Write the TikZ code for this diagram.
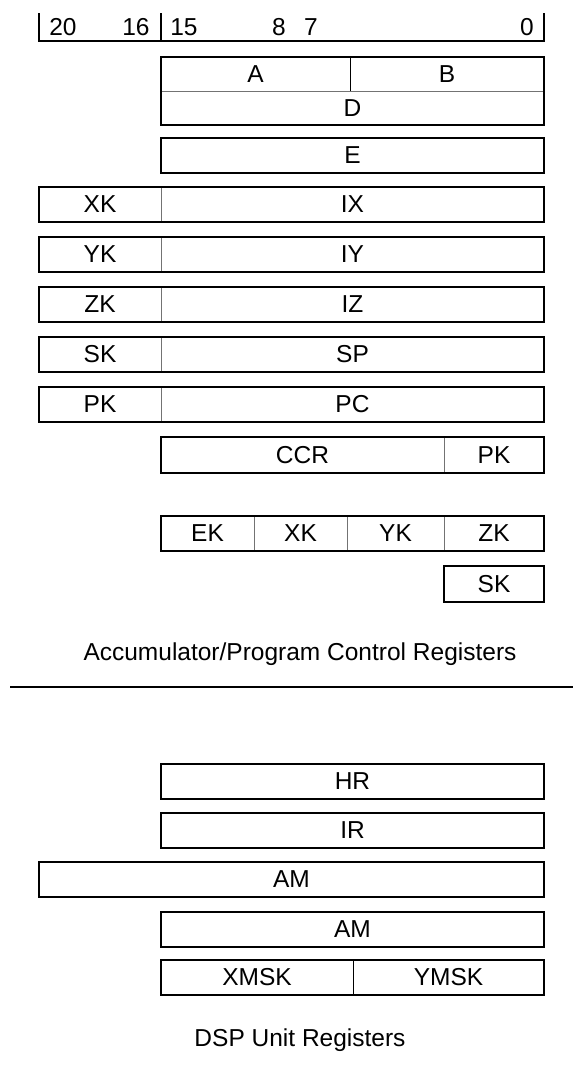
\documentclass[tikz,border=0pt]{standalone}
\usepackage{fontspec}
\setmainfont{Liberation Sans}
\begin{document}
\begin{tikzpicture}[x=1pt,y=-1pt,
  frame/.style={draw=black,line width=2pt},
  thinblack/.style={draw=black,line width=1.2pt},
  divider/.style={draw=black!55,line width=1.2pt},
  field/.style={inner sep=0pt,minimum height=35pt,font=\fontsize{24.5}{28}\selectfont},
  lbl/.style={inner sep=0pt,font=\fontsize{24.5}{28}\selectfont},
]
\useasboundingbox (0,0) rectangle (573,1068);
% header
\coordinate (h1) at (39,13);
\coordinate (h1b) at (39,41);
\coordinate (h2) at (161,13);
\coordinate (h2b) at (161,41);
\coordinate (h3) at (544,13);
\coordinate (h3b) at (544,41);
\draw[frame] (h1) -- (h1b) -- (h3b) -- (h3);
\draw[frame] (h2) -- (h2b);
\node[lbl] (b20) at (63,27) {20};
\node[lbl] (b16) at (136,27) {16};
\node[lbl] (b15) at (184,27) {15};
\node[lbl] (b8) at (279,27) {8};
\node[lbl] (b7) at (311,27) {7};
\node[lbl] (b0) at (527,27) {0};
% A/B/D
\node[field,minimum width=189pt,minimum height=34pt] (A) at (255.5,74) {A};
\node[field,minimum width=194pt,minimum height=34pt] (B) at (447,74) {B};
\node[field,minimum width=383pt,minimum height=34pt] (D) at (352.5,108) {D};
\draw[divider] (A.south west) -- (B.south east);
\draw[thinblack] (A.north east) -- (A.south east);
\draw[frame] (A.north west) rectangle (D.south east);
% E
\node[field,minimum width=383pt,frame] (E) at (352.5,155.5) {E};
% index registers
\foreach \k/\r/\y in {XK/IX/204.5,YK/IY/254.5,ZK/IZ/304.5,SK/SP/354.5,PK/PC/404.5}{
  \node[field,minimum width=122pt] (\k l) at (100,\y) {\k};
  \node[field,minimum width=383pt] (\r) at (352.5,\y) {\r};
  \draw[divider] (\k l.north east) -- (\k l.south east);
  \draw[frame] (\k l.north west) rectangle (\r.south east);
}
% CCR / PK
\node[field,minimum width=283pt] (CCR) at (302.5,455) {CCR};
\node[field,minimum width=100pt] (PKc) at (494,455) {PK};
\draw[divider] (CCR.north east) -- (CCR.south east);
\draw[frame] (CCR.north west) rectangle (PKc.south east);
% EK XK YK ZK
\node[field,minimum width=93pt] (EK) at (207.5,533.5) {EK};
\node[field,minimum width=93pt] (XKm) at (300.5,533.5) {XK};
\node[field,minimum width=97pt] (YKm) at (395.5,533.5) {YK};
\node[field,minimum width=100pt] (ZKm) at (494,533.5) {ZK};
\draw[divider] (EK.north east) -- (EK.south east);
\draw[divider] (XKm.north east) -- (XKm.south east);
\draw[divider] (YKm.north east) -- (YKm.south east);
\draw[frame] (EK.north west) rectangle (ZKm.south east);
% SK
\node[field,minimum width=100pt,minimum height=36pt,frame] (SKm) at (494,584) {SK};
% title 1
\node[lbl] (t1) at (300,654) {Accumulator/Program Control Registers};
\coordinate (sepl) at (10,687);
\coordinate (sepr) at (573,687);
\draw[frame] (sepl) -- (sepr);
% DSP registers
\node[field,minimum width=383pt,frame] (HR) at (352.5,781) {HR};
\node[field,minimum width=383pt,frame] (IR) at (352.5,830) {IR};
\node[field,minimum width=505pt,frame] (AMw) at (291.5,879) {AM};
\node[field,minimum width=383pt,frame] (AM) at (352.5,929) {AM};
\node[field,minimum width=192pt] (XMSK) at (257,977.5) {XMSK};
\node[field,minimum width=191pt] (YMSK) at (448.5,977.5) {YMSK};
\draw[thinblack] (XMSK.north east) -- (XMSK.south east);
\draw[frame] (XMSK.north west) rectangle (YMSK.south east);
\node[lbl] (t2) at (300,1040) {DSP Unit Registers};
\end{tikzpicture}
\end{document}
